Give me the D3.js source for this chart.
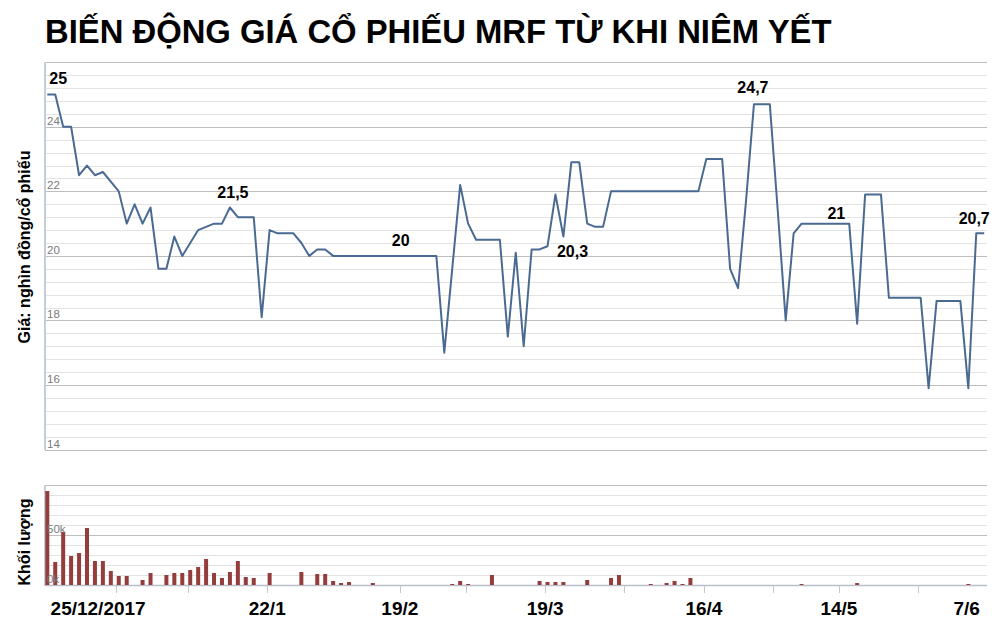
<!DOCTYPE html>
<html>
<head>
<meta charset="utf-8">
<script src="https://cdn.jsdelivr.net/npm/d3@7/dist/d3.min.js"></script>
<style>
html,body{margin:0;padding:0;background:#fff;}
svg{display:block;font-family:"Liberation Sans",Arial,sans-serif;}
</style>
</head>
<body>
<svg id="chart" width="1005" height="641"></svg>
<script>
// ---- DATA ----
const title = "BIẾN ĐỘNG GIÁ CỔ PHIẾU MRF TỪ KHI NIÊM YẾT";
const priceAxisTitle = "Giá: nghìn đồng/cổ phiếu";
const volumeAxisTitle = "Khối lượng";

// closing price per trading session (nghìn đồng)
const prices = [
  25, 25, 24, 24, 22.5, 22.8, 22.5, 22.6, 22.3, 22,
  21, 21.6, 21, 21.5, 19.6, 19.6, 20.6, 20, 20.4, 20.8,
  20.9, 21, 21, 21.5, 21.2, 21.2, 21.2, 18.1, 20.8, 20.7,
  20.7, 20.7, 20.4, 20, 20.2, 20.2, 20, 20, 20, 20,
  20, 20, 20, 20, 20, 20, 20, 20, 20, 20,
  17, 19.6, 22.2, 21, 20.5, 20.5, 20.5, 20.5, 17.5, 20.1,
  17.2, 20.2, 20.2, 20.3, 21.9, 20.6, 22.9, 22.9, 21, 20.9,
  20.9, 22, 22, 22, 22, 22, 22, 22, 22, 22,
  22, 22, 22, 23, 23, 23, 19.6, 19, 21.7, 24.7,
  24.7, 24.7, 21.4, 18, 20.7, 21, 21, 21, 21, 21,
  21, 21, 17.9, 21.9, 21.9, 21.9, 18.7, 18.7, 18.7, 18.7,
  18.7, 15.9, 18.6, 18.6, 18.6, 18.6, 15.9, 20.7, 20.7
];

// traded volume per session (nghìn cổ phiếu)
const volumes = [
  94, 23, 53, 29, 32, 57, 24, 24, 14, 9,
  9, 0, 5, 12, 0, 10, 12, 12, 15, 18,
  26, 12, 7, 13, 24, 8, 7, 0, 12, 0,
  0, 0, 13, 0, 11, 11, 4, 2, 3, 0,
  0, 2, 0, 0, 0, 0, 0, 0, 0, 0,
  0, 1, 4, 1, 0, 0, 10, 0, 0, 0,
  0, 0, 4, 3, 3, 3, 0, 0, 5, 0,
  0, 7, 10, 0, 0, 0, 1, 0, 2, 4,
  1, 7, 0, 0, 0, 0, 0, 0, 0, 0,
  0, 0, 0, 0, 0, 1, 0, 0, 0, 0,
  0, 0, 2, 0, 0, 0, 0, 0, 0, 0,
  0, 0, 0, 0, 0, 0, 1, 0, 0
];

// x-axis: tick marks (session position) and labels
const tickPositions = [8.7, 17.7, 27.7, 44.4, 52.7, 62.7, 72.6, 82.7, 91.4, 99.7, 109.7];
const xLabels = ["25/12/2017", "22/1", "19/2", "19/3", "16/4", "14/5", "7/6"];
const xLabelPositions = [6.4, 27.7, 44.4, 62.7, 82.7, 99.7, 115.8];

const priceTicks = [14, 16, 18, 20, 22, 24];
const volumeTicks = [0, 50];
const volumeTickLabels = ["0k", "50k"];

// annotated sessions
const annIndex = [1, 23, 44, 63, 89, 99, 118];
const annText = ["25", "21,5", "20", "20,3", "24,7", "21", "20,7"];

// ---- DRAW ----
const svg = d3.select("#chart");
const L = 45, R = 987;
const x = d3.scaleLinear().domain([0, prices.length - 1]).range([47.3, 984.2]);
const y = d3.scaleLinear().domain([14, 26]).range([449.5, 62.3]);
const yv = d3.scaleLinear().domain([0, 100]).range([585, 485]);

// title
svg.append("text").attr("x", 45).attr("y", 43)
  .attr("font-size", 32.8).attr("font-weight", "bold").attr("fill", "#000")
  .text(title);

// price gridlines
const pGrid = d3.range(0, 31).map(k => ({v: 14 + k * 0.4, major: k % 5 === 0}));
svg.append("g").selectAll("line").data(pGrid).join("line")
  .attr("x1", L).attr("x2", R)
  .attr("y1", d => Math.round(y(d.v)) + 0.5).attr("y2", d => Math.round(y(d.v)) + 0.5)
  .attr("stroke", d => d.major ? "#bdbdbd" : "#e3e3e3").attr("stroke-width", 1);

// volume gridlines
const vGrid = d3.range(0, 11).map(k => ({v: k * 10, major: k % 5 === 0}));
svg.append("g").selectAll("line").data(vGrid).join("line")
  .attr("x1", L).attr("x2", R)
  .attr("y1", d => Math.round(yv(d.v)) + 0.5).attr("y2", d => Math.round(yv(d.v)) + 0.5)
  .attr("stroke", d => d.major ? "#bdbdbd" : "#e3e3e3").attr("stroke-width", 1);

// left axis lines
svg.append("line").attr("x1", L).attr("x2", L).attr("y1", y(26)).attr("y2", y(14) + 0.5)
  .attr("stroke", "#c4ceda").attr("stroke-width", 2);
svg.append("line").attr("x1", L).attr("x2", L).attr("y1", yv(100)).attr("y2", yv(0) + 1)
  .attr("stroke", "#c4ceda").attr("stroke-width", 2);

// volume baseline
svg.append("line").attr("x1", L).attr("x2", R).attr("y1", yv(0) + 0.5).attr("y2", yv(0) + 0.5)
  .attr("stroke", "#b7c0ca").attr("stroke-width", 1.5);

// x tick marks
svg.append("g").selectAll("line").data(tickPositions).join("line")
  .attr("x1", d => Math.round(x(d)) + 0.5).attr("x2", d => Math.round(x(d)) + 0.5)
  .attr("y1", yv(0) + 1).attr("y2", yv(0) + 8)
  .attr("stroke", "#c8c8c8").attr("stroke-width", 1);

// volume bars
svg.append("g").selectAll("rect").data(volumes.map((v, i) => ({v, i})).filter(d => d.v > 0)).join("rect")
  .attr("x", d => x(d.i) - 2).attr("width", 4)
  .attr("y", d => yv(d.v)).attr("height", d => yv(0) - yv(d.v))
  .attr("fill", "#953d3c");

// price tick labels
svg.append("g").selectAll("text").data(priceTicks).join("text")
  .attr("x", 47).attr("y", d => y(d) - 2)
  .attr("font-size", 11.5).attr("fill", "#7a7a7a").text(d => d);

// volume tick labels
svg.append("g").selectAll("text").data(volumeTicks).join("text")
  .attr("x", 47).attr("y", d => yv(d) - 2)
  .attr("font-size", 11.5).attr("fill", "#7a7a7a")
  .text((d, i) => volumeTickLabels[i]);

// price line
const line = d3.line().x((d, i) => x(i)).y(d => y(d));
svg.append("path").datum(prices).attr("d", line)
  .attr("fill", "none").attr("stroke", "#4a6a92").attr("stroke-width", 2)
  .attr("stroke-linejoin", "round");

// annotations
const annOffsets = [[3, -11], [3, -10], [4, -10], [25, 11], [-1, -11], [3, -5], [-10, -9]];
svg.append("g").selectAll("text").data(annIndex).join("text")
  .attr("x", (d, k) => x(d) + annOffsets[k][0])
  .attr("y", (d, k) => y(prices[d]) + annOffsets[k][1])
  .attr("text-anchor", "middle")
  .attr("font-size", 16).attr("font-weight", "bold").attr("fill", "#000")
  .text((d, k) => annText[k]);

// x labels
svg.append("g").selectAll("text").data(xLabels).join("text")
  .attr("x", (d, i) => x(xLabelPositions[i]))
  .attr("y", 615)
  .attr("text-anchor", "middle")
  .attr("font-size", 19).attr("font-weight", "bold").attr("fill", "#000")
  .text(d => d);

// axis titles
svg.append("text").attr("transform", "translate(30,247) rotate(-90)")
  .attr("text-anchor", "middle").attr("font-size", 16).attr("font-weight", "bold")
  .text(priceAxisTitle);
svg.append("text").attr("transform", "translate(30,542) rotate(-90)")
  .attr("text-anchor", "middle").attr("font-size", 16).attr("font-weight", "bold")
  .text(volumeAxisTitle);
</script>
</body>
</html>
